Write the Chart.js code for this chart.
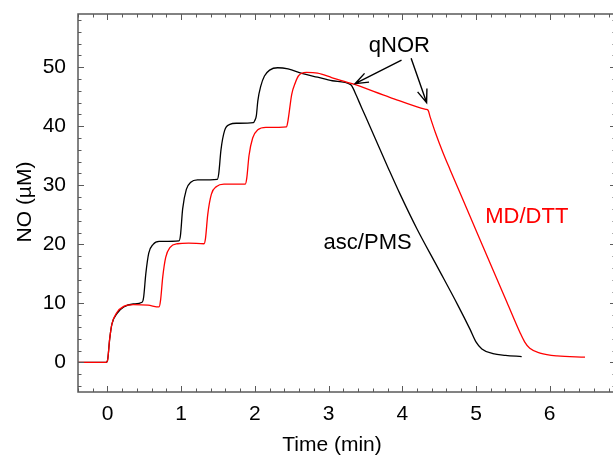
<!DOCTYPE html>
<html>
<head>
<meta charset="utf-8">
<script src="https://cdn.jsdelivr.net/npm/chart.js@4.4.0/dist/chart.umd.min.js"></script>
<style>
  html, body { margin: 0; padding: 0; background: #fff; overflow: hidden; }
  #wrap { width: 613px; height: 456px; overflow: hidden; }
</style>
</head>
<body>
<div id="wrap"><canvas id="c" width="620" height="456"></canvas></div>
<script>
// asc/PMS trace (black)
const ascTime = [-0.4, -0.02, 0.0, 0.03, 0.06, 0.13, 0.22, 0.35, 0.47,
  0.49, 0.52, 0.56, 0.62, 0.7, 0.97,
  0.99, 1.02, 1.07, 1.13, 1.22, 1.49,
  1.51, 1.54, 1.59, 1.66, 1.75, 1.98,
  2.0, 2.02, 2.04, 2.08, 2.13, 2.2, 2.31, 2.45, 2.65, 2.85, 3.05, 3.3,
  3.33, 3.38, 3.45, 3.56, 3.7, 3.81, 3.97, 4.2, 4.48, 4.75, 4.92, 5.0, 5.08, 5.23, 5.4, 5.62];
const ascNO = [0, 0, 0.3, 4, 6.5, 8.3, 9.4, 9.9, 10.2,
  11, 15, 18.5, 20.0, 20.5, 20.6,
  21.5, 26, 29.3, 30.5, 30.9, 31.0,
  32, 36, 39.3, 40.3, 40.5, 40.6,
  41.0, 41.8, 44.3, 46.8, 48.5, 49.5, 49.9, 49.7, 48.9, 48.3, 47.7, 47.05,
  46.5, 45.1, 43.1, 40.0, 36.0, 32.9, 28.5, 22.6, 16.1, 9.8, 5.6, 3.5, 2.3, 1.5, 1.2, 1.0];

// MD/DTT trace (red)
const mdTime = [-0.4, -0.02, 0.0, 0.03, 0.06, 0.13, 0.22, 0.35, 0.55, 0.7,
  0.72, 0.75, 0.79, 0.85, 0.95, 1.1, 1.31,
  1.33, 1.36, 1.41, 1.48, 1.58, 1.87,
  1.89, 1.92, 1.97, 2.04, 2.15, 2.43,
  2.45, 2.5, 2.55, 2.59, 2.7, 2.85, 3.05, 3.32, 3.83, 4.32,
  4.35, 4.38, 4.45, 4.55, 4.65, 4.78, 5.0, 5.23, 5.42, 5.6, 5.66, 5.73, 5.87, 6.1, 6.48];
const mdNO = [0, 0, 0.3, 4, 6.5, 8.5, 9.5, 9.8, 9.7, 9.4,
  10.5, 14.5, 17.8, 19.5, 20.1, 20.2, 20.1,
  21, 25, 28.5, 29.8, 30.2, 30.2,
  31.2, 35, 38, 39.4, 39.8, 39.9,
  41.0, 45.4, 47.4, 48.5, 49.1, 49.0, 48.2, 47.2, 44.9, 42.85,
  42.7, 41.5, 38.9, 35.6, 32.6, 28.8, 22.4, 15.7, 10.2, 5.0, 3.5, 2.4, 1.6, 1.1, 0.9];

const xTicks = [0, 1, 2, 3, 4, 5, 6];
const yTicks = [0, 10, 20, 30, 40, 50];
const xRange = [-0.4, 6.9];
const yRange = [-5, 59];

// text labels and arrows, in data units
const labels = [
  { text: 'qNOR', x: 3.96, y: 53.6, color: '#000' },
  { text: 'asc/PMS', x: 3.53, y: 20.3, color: '#000' },
  { text: 'MD/DTT', x: 5.69, y: 24.6, color: '#ff0000' }
];
const arrows = [
  { from: [3.99, 51.2], to: [3.36, 47.2] },
  { from: [4.12, 51.5], to: [4.33, 44.0] }
];

const FONT = '"Liberation Sans", Arial, sans-serif';
const FRAME = '#5a5a5a';

function toPoints(xs, ys) {
  return xs.map((x, i) => ({ x: x, y: ys[i] }));
}

const framePlugin = {
  id: 'frame',
  afterDraw(chart) {
    const ctx = chart.ctx;
    const a = chart.chartArea;
    const xs = chart.scales.x, ys = chart.scales.y;
    ctx.save();
    ctx.strokeStyle = FRAME;
    ctx.lineWidth = 1.5;
    ctx.strokeRect(a.left, a.top, a.right - a.left, a.bottom - a.top);
    ctx.lineWidth = 1;
    ctx.beginPath();
    // x ticks every 0.2, long ones on integers
    for (let k = -2; k <= 34; k++) {
      const px = Math.round(xs.getPixelForValue(k / 5)) + 0.5;
      const len = (k % 5 === 0) ? 6 : 3.5;
      ctx.moveTo(px, a.bottom); ctx.lineTo(px, a.bottom - len);
      ctx.moveTo(px, a.top); ctx.lineTo(px, a.top + len);
    }
    // y ticks every 2, long ones on tens
    for (let v = -4; v <= 58; v += 2) {
      const py = Math.round(ys.getPixelForValue(v)) + 0.5;
      const len = (v % 10 === 0) ? 6 : 3.5;
      ctx.moveTo(a.left, py); ctx.lineTo(a.left + len, py);
      ctx.moveTo(a.right, py); ctx.lineTo(a.right - len, py);
    }
    ctx.stroke();

    // axis titles
    ctx.fillStyle = '#000';
    ctx.font = '21px ' + FONT;
    ctx.textAlign = 'center';
    ctx.textBaseline = 'middle';
    ctx.fillText('Time (min)', 332, a.bottom + 53);
    ctx.translate(25, (a.top + a.bottom) / 2 - 1);
    ctx.rotate(-Math.PI / 2);
    ctx.fillText('NO (\u00b5M)', 0, 0);
    ctx.restore();
  },
  afterDatasetsDraw(chart) {
    const ctx = chart.ctx;
    const xs = chart.scales.x, ys = chart.scales.y;
    ctx.save();
    ctx.font = '22px ' + FONT;
    ctx.textAlign = 'center';
    ctx.textBaseline = 'middle';
    labels.forEach(l => {
      ctx.fillStyle = l.color;
      ctx.fillText(l.text, xs.getPixelForValue(l.x), ys.getPixelForValue(l.y));
    });
    ctx.strokeStyle = '#000';
    ctx.lineWidth = 1.4;
    arrows.forEach(ar => {
      const x1 = xs.getPixelForValue(ar.from[0]), y1 = ys.getPixelForValue(ar.from[1]);
      const x2 = xs.getPixelForValue(ar.to[0]), y2 = ys.getPixelForValue(ar.to[1]);
      const ang = Math.atan2(y2 - y1, x2 - x1);
      const h = 14, spread = 0.36;
      ctx.beginPath();
      ctx.moveTo(x1, y1); ctx.lineTo(x2, y2);
      ctx.moveTo(x2 - h * Math.cos(ang - spread), y2 - h * Math.sin(ang - spread));
      ctx.lineTo(x2, y2);
      ctx.lineTo(x2 - h * Math.cos(ang + spread), y2 - h * Math.sin(ang + spread));
      ctx.stroke();
    });
    ctx.restore();
  }
};

new Chart(document.getElementById('c'), {
  type: 'line',
  data: {
    datasets: [
      {
        label: 'MD/DTT',
        data: toPoints(mdTime, mdNO),
        borderColor: '#ff0000',
        borderWidth: 1.3,
        pointRadius: 0,
        cubicInterpolationMode: 'monotone',
        fill: false
      },
      {
        label: 'asc/PMS',
        data: toPoints(ascTime, ascNO),
        borderColor: '#000000',
        borderWidth: 1.3,
        pointRadius: 0,
        cubicInterpolationMode: 'monotone',
        fill: false
      }
    ]
  },
  options: {
    responsive: false,
    animation: false,
    layout: { padding: { left: 0, top: 14, right: 4, bottom: 0 } },
    plugins: { legend: { display: false }, tooltip: { enabled: false } },
    scales: {
      x: {
        type: 'linear',
        min: xRange[0], max: xRange[1],
        grid: { display: false, drawTicks: false },
        border: { display: false },
        afterBuildTicks: s => { s.ticks = xTicks.map(v => ({ value: v })); },
        afterFit: s => { s.height = 64; s.paddingLeft = 0; s.paddingRight = 0; },
        ticks: { padding: 10, color: '#000', font: { family: FONT, size: 21 }, maxRotation: 0 }
      },
      y: {
        type: 'linear',
        min: yRange[0], max: yRange[1],
        grid: { display: false, drawTicks: false },
        border: { display: false },
        afterBuildTicks: s => { s.ticks = yTicks.map(v => ({ value: v })); },
        afterFit: s => { s.width = 78; s.paddingTop = 0; s.paddingBottom = 0; },
        ticks: { padding: 12, color: '#000', font: { family: FONT, size: 21 } }
      }
    }
  },
  plugins: [framePlugin]
});
</script>
</body>
</html>
